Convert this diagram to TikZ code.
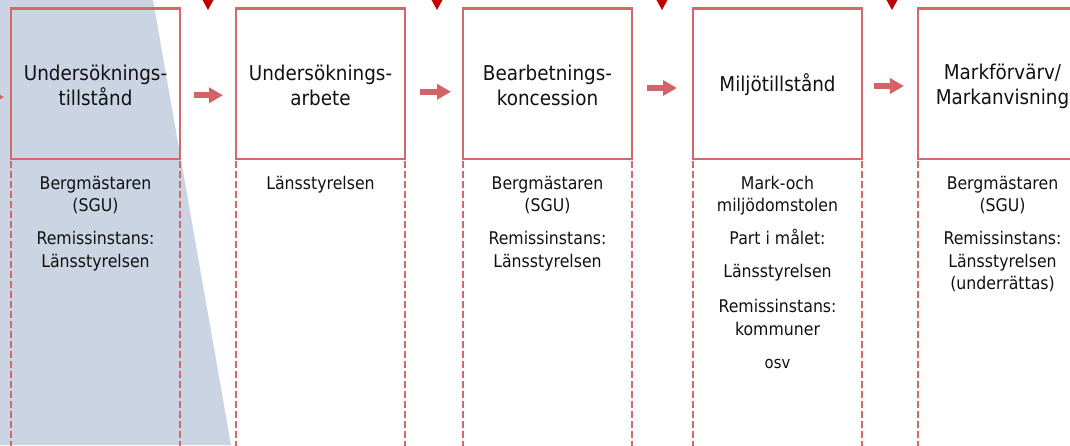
\documentclass[tikz,border=0pt]{standalone}
\usepackage{fontspec}
\setmainfont{DejaVu Sans}[FakeStretch=0.9]
\usetikzlibrary{arrows.meta}
\definecolor{boxred}{HTML}{D26A6D}
\definecolor{arrred}{HTML}{D46368}
\definecolor{tipred}{HTML}{C00000}
\definecolor{bandblue}{HTML}{CBD4E2}
\definecolor{txt}{HTML}{111111}
\tikzset{
  titlebox/.style={draw=boxred, line width=2.8pt, minimum width=169pt, minimum height=150.5pt, inner sep=0pt, outer sep=0pt},
  lowerbox/.style={draw=boxred, line width=2.8pt, dash pattern=on 7pt off 3pt, minimum width=169pt, minimum height=300pt, inner sep=0pt, outer sep=0pt, anchor=north},
  titletext/.style={anchor=base, align=center, text=txt, font=\fontsize{20.4pt}{25pt}\selectfont, inner sep=0pt},
  lowtext/.style={anchor=base, align=center, text=txt, font=\fontsize{17.5pt}{22.5pt}\selectfont, inner sep=0pt},
  smalltext/.style={anchor=base, align=center, text=txt, font=\fontsize{16.5pt}{20pt}\selectfont, inner sep=0pt},
  flowarrow/.style={draw=arrred, line width=6pt, -{Triangle[length=14pt,width=15pt]}},
  droptip/.style={fill=tipred},
}
\begin{document}
\begin{tikzpicture}[x=1pt,y=-1pt]
\useasboundingbox (0,0) rectangle (1070,445);
\clip (0,0) rectangle (1070,445);
% background band
\fill[bandblue] (0,0) -- (153,0) -- (231,445) -- (0,445) -- cycle;
% lower dashed boxes
\node[lowerbox] (l1) at (95.5,159) {};
\node[lowerbox] (l2) at (320.5,159) {};
\node[lowerbox] (l3) at (547.5,159) {};
\node[lowerbox] (l4) at (777.5,159) {};
\node[lowerbox] (l5) at (1002.5,159) {};
% title boxes
\node[titlebox] (b1) at (95.5,83.75) {};
\node[titlebox] (b2) at (320.5,83.75) {};
\node[titlebox] (b3) at (547.5,83.75) {};
\node[titlebox] (b4) at (777.5,83.75) {};
\node[titlebox] (b5) at (1002.5,83.75) {};
% titles (base = baseline of last line)
\node[titletext] (t1) at (95.5,105) {Undersöknings-\\tillstånd};
\node[titletext] (t2) at (320.5,105) {Undersöknings-\\arbete};
\node[titletext] (t3) at (547.5,105) {Bearbetnings-\\koncession};
\node[titletext] (t4) at (777.5,91) {Miljötillstånd};
\node[titletext] (t5) at (1002.5,104) {Markförvärv/\\Markanvisning};
% lower texts (base = baseline of last line)
\node[lowtext] (d1) at (95.5,267) {Bergmästaren\\(SGU)\\[10.5pt]Remissinstans:\\Länsstyrelsen};
\node[lowtext] (d2) at (320.5,189) {Länsstyrelsen};
\node[lowtext] (d3) at (547.5,267) {Bergmästaren\\(SGU)\\[10.5pt]Remissinstans:\\Länsstyrelsen};
\node[lowtext] (d4) at (777.5,335) {Mark-och\\miljödomstolen\\[10.5pt]Part i målet:\\[10.5pt]Länsstyrelsen\\[12.5pt]Remissinstans:\\kommuner};
\node[smalltext] (d4b) at (777.5,368) {osv};
\node[lowtext] (d5) at (1002.5,289.5) {Bergmästaren\\(SGU)\\[10.5pt]Remissinstans:\\Länsstyrelsen\\(underrättas)};
% arrows between steps
\coordinate (src) at (-40,97);
\draw[flowarrow, shorten >=7pt] (src) -- ([yshift=-13.25pt]b1.west);
\draw[flowarrow, shorten <=14pt, shorten >=13pt] ([yshift=-11.5pt]b1.east) -- ([yshift=-11.5pt]b2.west);
\draw[flowarrow, shorten <=15pt, shorten >=12pt] ([yshift=-8pt]b2.east) -- ([yshift=-8pt]b3.west);
\draw[flowarrow, shorten <=15pt, shorten >=16pt] ([yshift=-4.25pt]b3.east) -- ([yshift=-4.25pt]b4.west);
\draw[flowarrow, shorten <=12pt, shorten >=14pt] ([yshift=-2.25pt]b4.east) -- ([yshift=-2.25pt]b5.west);
% incoming tips at top
\fill[droptip] (202,-1) -- (214,-1) -- (208,10) -- cycle;
\fill[droptip] (431,-1) -- (443,-1) -- (437,10) -- cycle;
\fill[droptip] (656,-1) -- (668,-1) -- (662,10) -- cycle;
\fill[droptip] (886,-1) -- (898,-1) -- (892,10) -- cycle;
\end{tikzpicture}
\end{document}
